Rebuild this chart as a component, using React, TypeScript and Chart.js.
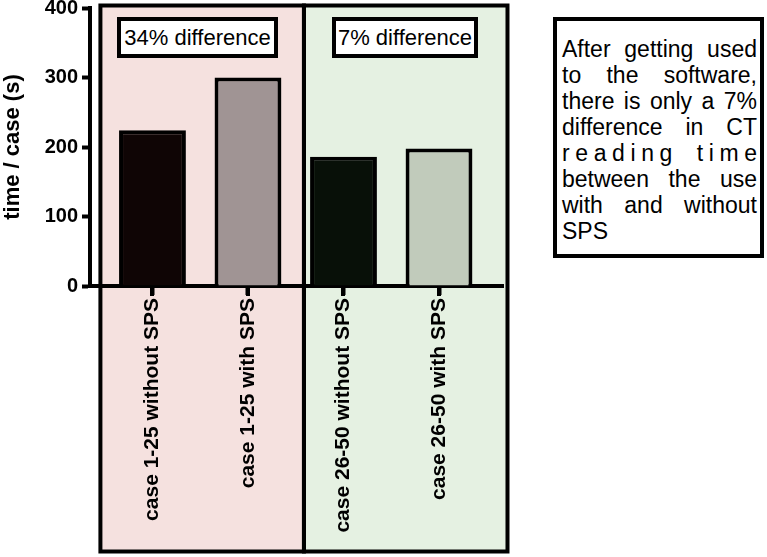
import React, { useEffect, useRef } from "react";
import { Chart, registerables } from "chart.js";

Chart.register(...registerables);

const categories = [
  "case 1-25 without SPS",
  "case 1-25 with SPS",
  "case 26-50 without SPS",
  "case 26-50 with SPS",
];
const timePerCase = [224, 300, 186, 198];
const barColors = ["#0f0505", "#a09494", "#081008", "#c1cbbb"];
const yTicks = [0, 100, 200, 300, 400];
const groupLabels = ["34% difference", "7% difference"];
const groupColors = ["#f5e1df", "#e5f1e2"];
const noteLines = [
  "After getting used",
  "to the software,",
  "there is only a 7%",
  "difference in CT",
  "reading time",
  "between the use",
  "with and without",
  "SPS",
];

const FONT = "'Liberation Sans', Arial, Helvetica, sans-serif";
const groupSpans: [number, number][] = [
  [-0.545, 1.586],
  [1.586, 3.717],
];

const groupBoxes = {
  id: "groupBoxes",
  beforeDraw(chart: any) {
    const { ctx, chartArea } = chart;
    const x = chart.scales.x;
    const top = chartArea.top - 2.5;
    const bottom = chart.height - 5.5;
    ctx.save();
    groupSpans.forEach(([a, b], i) => {
      const l = x.getPixelForValue(a);
      const r = x.getPixelForValue(b);
      ctx.fillStyle = groupColors[i];
      ctx.fillRect(l, top, r - l, bottom - top);
    });
    ctx.lineWidth = 4;
    ctx.strokeStyle = "#000";
    groupSpans.forEach(([a, b]) => {
      const l = x.getPixelForValue(a);
      const r = x.getPixelForValue(b);
      ctx.strokeRect(l, top, r - l, bottom - top);
    });
    ctx.restore();
  },
};

const categoryTicks = {
  id: "categoryTicks",
  afterDraw(chart: any) {
    const { ctx, chartArea } = chart;
    const x = chart.scales.x;
    ctx.save();
    ctx.strokeStyle = "#000";
    ctx.lineWidth = 4;
    categories.forEach((_, i) => {
      const px = Math.round(x.getPixelForValue(i));
      ctx.beginPath();
      ctx.moveTo(px, chartArea.bottom);
      ctx.lineTo(px, chartArea.bottom + 10);
      ctx.stroke();
    });
    ctx.restore();
  },
};

export default function App() {
  const ref = useRef<HTMLCanvasElement>(null);

  useEffect(() => {
    document.body.style.margin = "0";
    const canvas = ref.current!;
    const chart = new Chart(canvas, {
      type: "bar",
      data: {
        datasets: [
          {
            data: timePerCase.map((v, i) => ({ x: i, y: v })),
            backgroundColor: barColors,
            borderColor: "#000",
            borderWidth: 4,
            borderSkipped: "start",
            categoryPercentage: 1,
            barPercentage: 0.7,
          },
        ],
      },
      plugins: [groupBoxes, categoryTicks],
      options: {
        responsive: false,
        animation: false,
        devicePixelRatio: 1,
        layout: { padding: { top: 8, left: 0, right: 264, bottom: 0 } },
        plugins: {
          legend: { display: false },
          tooltip: { enabled: false },
        },
        scales: {
          x: {
            type: "linear",
            offset: false,
            min: -0.654,
            max: 3.67,
            afterBuildTicks: (s: any) => {
              s.ticks = categories.map((_, i) => ({ value: i }));
            },
            afterFit: (s: any) => {
              s.height = 271;
              s.paddingLeft = 0;
              s.paddingRight = 0;
            },
            grid: {
              display: true,
              offset: false,
              drawOnChartArea: false,
              drawTicks: true,
              tickLength: 9,
              tickWidth: 4,
              tickColor: "#000",
            },
            border: { display: true, width: 4, color: "#000" },
            ticks: {
              autoSkip: false,
              minRotation: 90,
              maxRotation: 90,
              padding: 3,
              color: "#000",
              font: { family: FONT, size: 21, weight: "bold" },
              callback: (v: any) => categories[Math.round(Number(v))] ?? "",
            },
          },
          y: {
            min: 0,
            max: 400,
            afterBuildTicks: (s: any) => {
              s.ticks = yTicks.map((v) => ({ value: v }));
            },
            afterFit: (s: any) => {
              s.width = 90;
              s.paddingTop = 0;
              s.paddingBottom = 0;
            },
            grid: {
              display: true,
              drawOnChartArea: false,
              drawTicks: true,
              tickLength: 8,
              tickWidth: 4,
              tickColor: "#000",
            },
            border: { display: true, width: 4, color: "#000" },
            ticks: {
              padding: 4,
              color: "#000",
              font: { family: FONT, size: 20, weight: "bold" },
            },
            title: {
              display: true,
              text: "time / case (s)",
              color: "#000",
              padding: { top: 0, bottom: 0 },
              font: { family: FONT, size: 22, weight: "bold" },
            },
          },
        },
      } as any,
    });
    return () => chart.destroy();
  }, []);

  const diffBox = (left: number, top: number, width: number, text: string) => (
    <div
      style={{
        position: "absolute",
        left,
        top,
        width,
        height: 41,
        boxSizing: "border-box",
        border: "4px solid #000",
        background: "#fff",
        fontFamily: FONT,
        fontSize: 22,
        lineHeight: "33px",
        textAlign: "center",
        color: "#000",
        whiteSpace: "nowrap",
      }}
    >
      {text}
    </div>
  );

  return (
    <div style={{ position: "relative", width: 767, height: 557, overflow: "hidden", background: "#fff" }}>
      <canvas ref={ref} width={767} height={557} style={{ position: "absolute", left: 0, top: 0 }} />
      {diffBox(117, 17, 161, groupLabels[0])}
      {diffBox(332, 17, 146, groupLabels[1])}
      <div
        style={{
          position: "absolute",
          left: 553,
          top: 17,
          width: 211,
          height: 241,
          boxSizing: "border-box",
          border: "4px solid #000",
          background: "#fff",
          padding: "15px 3px 0 5px",
          fontFamily: FONT,
          fontSize: 23,
          lineHeight: "26px",
          color: "#000",
        }}
      >
        {noteLines.map((line, i) => (
          <div
            key={i}
            style={{
              textAlign: i === noteLines.length - 1 ? "left" : "justify",
              textAlignLast: i === noteLines.length - 1 ? "left" : "justify",
              whiteSpace: "nowrap",
              letterSpacing: line === "reading time" ? "5.6px" : undefined,
              marginRight: line === "reading time" ? -5.6 : 0,
            }}
          >
            {line}
          </div>
        ))}
      </div>
    </div>
  );
}
